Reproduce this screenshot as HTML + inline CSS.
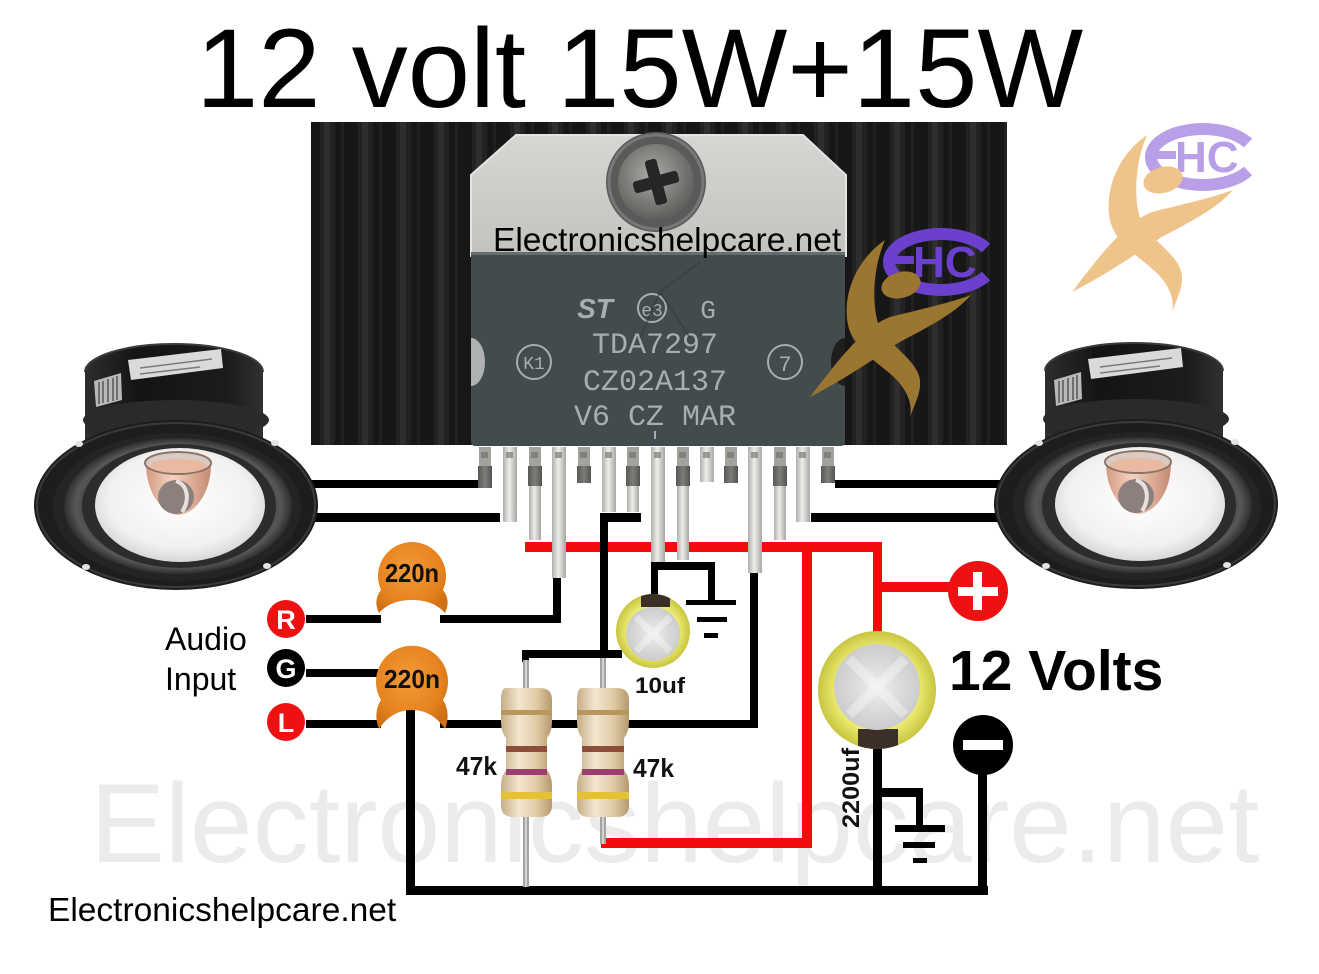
<!DOCTYPE html>
<html><head><meta charset="utf-8"><style>html,body{margin:0;padding:0;background:#fff;width:1319px;height:974px;overflow:hidden}svg{display:block}</style></head>
<body>
<svg width="1319" height="974" viewBox="0 0 1319 974" xmlns="http://www.w3.org/2000/svg" font-family="'Liberation Sans', Arial, sans-serif">
<defs>
 <pattern id="fins" x="311" y="0" width="38" height="20" patternUnits="userSpaceOnUse">
  <rect width="38" height="20" fill="#171717"/>
  <rect x="9" width="15" height="20" fill="#222"/>
  <rect x="13" width="6" height="20" fill="#2e2e2e"/>
  <rect x="30" width="3" height="20" fill="#202020"/>
 </pattern>
 <linearGradient id="tab" x1="0" y1="0" x2="0" y2="1"><stop offset="0" stop-color="#d6d6d2"/><stop offset="1" stop-color="#c2c2be"/></linearGradient>
 <radialGradient id="screw" cx="0.45" cy="0.4" r="0.6"><stop offset="0" stop-color="#ababa8"/><stop offset="1" stop-color="#5e5e5c"/></radialGradient>
 <linearGradient id="pinL" x1="0" x2="1"><stop offset="0" stop-color="#aeaeaa"/><stop offset=".45" stop-color="#ededea"/><stop offset="1" stop-color="#a6a6a2"/></linearGradient>
 <linearGradient id="pinD" x1="0" x2="1"><stop offset="0" stop-color="#585856"/><stop offset=".5" stop-color="#7d7d79"/><stop offset="1" stop-color="#535351"/></linearGradient>
 <radialGradient id="cer" cx=".45" cy=".4" r=".65"><stop offset="0" stop-color="#f29a38"/><stop offset=".7" stop-color="#e6831f"/><stop offset="1" stop-color="#cf7014"/></radialGradient>
 <linearGradient id="res" x1="0" x2="1"><stop offset="0" stop-color="#c6ad86"/><stop offset=".35" stop-color="#f2e6cf"/><stop offset=".7" stop-color="#e1cba6"/><stop offset="1" stop-color="#b5986e"/></linearGradient>
 <radialGradient id="cone" cx=".5" cy=".45" r=".6"><stop offset="0" stop-color="#ffffff"/><stop offset=".7" stop-color="#f3f1ef"/><stop offset="1" stop-color="#cfcdcb"/></radialGradient>
 <linearGradient id="mag" x1="0" x2="1"><stop offset="0" stop-color="#2e2e2e"/><stop offset=".3" stop-color="#141414"/><stop offset=".8" stop-color="#1c1c1c"/><stop offset="1" stop-color="#303030"/></linearGradient>
 <linearGradient id="cop" x1="0" x2="1"><stop offset="0" stop-color="#d39a82"/><stop offset=".4" stop-color="#f4d2bf"/><stop offset="1" stop-color="#c68a72"/></linearGradient>
 <radialGradient id="foil" cx=".5" cy=".5" r=".5"><stop offset="0" stop-color="#eeeeee"/><stop offset="1" stop-color="#cccccc"/></radialGradient>
 <radialGradient id="yel" cx=".5" cy=".5" r=".5"><stop offset=".7" stop-color="#eceb72"/><stop offset="1" stop-color="#c8c540"/></radialGradient>
 <radialGradient id="rub" cx=".5" cy=".5" r=".5"><stop offset=".75" stop-color="#3a3a3a"/><stop offset=".9" stop-color="#575757"/><stop offset="1" stop-color="#2e2e2e"/></radialGradient>
 <clipPath id="c10"><circle cx="653" cy="631" r="37"/></clipPath>
 <clipPath id="c22"><circle cx="877" cy="690" r="59"/></clipPath>
</defs>

<rect width="1319" height="974" fill="#fff"/>

<!-- watermark -->
<text x="90" y="862" font-size="112.5" fill="#ebebeb">Electronicshelpcare.net</text>

<!-- title -->
<text x="196" y="107" font-size="112" fill="#000">12 volt 15W+15W</text>

<!-- heatsink -->
<rect x="311" y="122" width="696" height="323" fill="url(#fins)"/>

<!-- chip tab -->
<polygon points="516,135 803,135 846,175 846,256 471,256 471,175" fill="url(#tab)" stroke="#e4e4e0" stroke-width="2"/>
<circle cx="656" cy="182" r="50" fill="#5a5a58"/>
<circle cx="656" cy="182" r="47" fill="none" stroke="#777" stroke-width="3"/>
<circle cx="656" cy="182" r="38" fill="url(#screw)"/>
<g transform="rotate(-15 656 182)" fill="#262626">
 <rect x="633" y="176" width="46" height="12" rx="3"/>
 <rect x="650" y="159" width="12" height="46" rx="3"/>
</g>

<!-- chip body -->
<rect x="471" y="252" width="374" height="194" rx="4" fill="#434c4c"/>
<rect x="471" y="252" width="374" height="3" fill="#656e6e"/>
<path d="M471,338 A14,24 0 0 1 471,386 Z" fill="#aeb2b2"/>
<path d="M845,338 A14,24 0 0 0 845,386 Z" fill="#1e1e1e"/>
<g fill="#a6aeae" font-family="'Liberation Mono', monospace" font-size="30" text-anchor="middle">
 <text x="655" y="353">TDA7297</text>
 <text x="655" y="390">CZ02A137</text>
 <text x="655" y="425">V6 CZ MAR</text>
 <text x="708" y="318" font-size="26">G</text>
 <text x="595" y="318" font-size="28" font-style="italic" font-weight="bold" font-family="'Liberation Sans', sans-serif">ST</text>
 <text x="652" y="316" font-size="18">e3</text>
 <text x="534" y="369" font-size="18">K1</text>
 <text x="785" y="371" font-size="22">7</text>
</g>
<g fill="none" stroke="#a6aeae" stroke-width="2">
 <circle cx="652" cy="308" r="14"/>
 <circle cx="534" cy="362" r="17"/>
 <circle cx="785" cy="362" r="17"/>
</g>
<path d="M640,338 L660,292 L690,338 M660,292 L700,262" stroke="#333a3a" stroke-width="2" fill="none" opacity=".6"/>
<rect x="654" y="431" width="2" height="8" fill="#aab"/>
<text x="493" y="251" font-size="33.5" fill="#000">Electronicshelpcare.net</text>

<!-- chip overlay logo -->
<g transform="translate(-262,105)">
 <path d="M1248,143 A52,28 0 1 0 1248,171" fill="none" stroke="#6a40cc" stroke-width="12"/>
 <rect x="1150" y="151" width="26" height="8" fill="#6a40cc"/>
 <text x="1175" y="172" font-size="44" font-weight="bold" fill="#6a40cc">HC</text>
 <g fill="#9a7630">
  <path d="M1147,135 C1118,155 1104,190 1110,220 C1116,248 1150,262 1163,280 C1172,292 1174,302 1172,312 C1178,296 1186,282 1180,268 C1172,250 1148,238 1140,218 C1133,195 1136,160 1147,135 Z"/>
  <path d="M1233,190 C1205,200 1175,206 1152,212 C1125,222 1098,258 1072,292 C1105,275 1135,255 1160,238 C1190,222 1215,210 1233,190 Z"/>
  <ellipse cx="1163" cy="180" rx="20" ry="13" transform="rotate(-15 1163 180)"/>
 </g>
</g>

<!-- top-right logo -->
<g>
 <path d="M1248,143 A52,28 0 1 0 1248,171" fill="none" stroke="#b99fe8" stroke-width="12"/>
 <rect x="1150" y="151" width="26" height="8" fill="#b99fe8"/>
 <text x="1175" y="172" font-size="44" font-weight="bold" fill="#b99fe8">HC</text>
 <g fill="#efc48a">
  <path d="M1147,135 C1118,155 1104,190 1110,220 C1116,248 1150,262 1163,280 C1172,292 1174,302 1172,312 C1178,296 1186,282 1180,268 C1172,250 1148,238 1140,218 C1133,195 1136,160 1147,135 Z"/>
  <path d="M1233,190 C1205,200 1175,206 1152,212 C1125,222 1098,258 1072,292 C1105,275 1135,255 1160,238 C1190,222 1215,210 1233,190 Z"/>
  <ellipse cx="1163" cy="180" rx="20" ry="13" transform="rotate(-15 1163 180)"/>
 </g>
</g>

<!-- red wires -->
<g fill="#f20c0c">
 <rect x="525" y="542" width="357" height="10"/>
 <rect x="873" y="542" width="9" height="92"/>
 <rect x="873" y="582" width="77" height="10"/>
 <rect x="802" y="542" width="10" height="306"/>
 <rect x="601" y="838" width="211" height="10"/>
</g>

<!-- black wires -->
<g fill="#000">
 <rect x="300" y="480" width="178" height="8"/>
 <rect x="300" y="513" width="200" height="9"/>
 <rect x="835" y="480" width="180" height="8"/>
 <rect x="811" y="513" width="204" height="9"/>
 <rect x="600" y="513" width="41" height="9"/>
 <rect x="600" y="513" width="8" height="145"/>
 <rect x="522" y="650" width="100" height="8"/>
 <rect x="522" y="650" width="7" height="12"/>
 <rect x="306" y="615" width="75" height="8"/>
 <rect x="440" y="615" width="121" height="8"/>
 <rect x="553" y="576" width="8" height="47"/>
 <rect x="306" y="669" width="75" height="8"/>
 <rect x="306" y="720" width="75" height="8"/>
 <rect x="440" y="720" width="318" height="8"/>
 <rect x="750" y="571" width="8" height="157"/>
 <rect x="406" y="700" width="9" height="195"/>
 <rect x="406" y="886" width="582" height="9"/>
 <rect x="978" y="760" width="9" height="135"/>
 <rect x="873" y="745" width="9" height="150"/>
 <rect x="873" y="788" width="50" height="9"/>
 <rect x="916" y="788" width="7" height="40"/>
 <rect x="895" y="825" width="50" height="7"/>
 <rect x="903" y="842" width="32" height="6"/>
 <rect x="913" y="858" width="14" height="5"/>
 <rect x="651" y="562" width="64" height="8"/>
 <rect x="651" y="562" width="7" height="37"/>
 <rect x="708" y="562" width="7" height="40"/>
 <rect x="686" y="600" width="50" height="5"/>
 <rect x="697" y="617" width="30" height="5"/>
 <rect x="704" y="633" width="14" height="5"/>
</g>

<!-- pins -->
<g>
 <rect x="479" y="447" width="12" height="20" fill="#a3a39e"/><rect x="478" y="466" width="14" height="22" fill="url(#pinD)"/>
 <rect x="503" y="447" width="14" height="75" fill="url(#pinL)"/>
 <rect x="529" y="447" width="12" height="20" fill="#a3a39e"/><rect x="528" y="466" width="14" height="20" fill="url(#pinD)"/><rect x="529" y="486" width="12" height="54" fill="url(#pinL)"/>
 <rect x="552" y="447" width="14" height="131" fill="url(#pinL)"/>
 <rect x="578" y="447" width="12" height="20" fill="#a3a39e"/><rect x="577" y="466" width="14" height="17" fill="url(#pinD)"/>
 <rect x="602" y="447" width="14" height="65" fill="url(#pinL)"/>
 <rect x="627" y="447" width="12" height="20" fill="#a3a39e"/><rect x="626" y="466" width="14" height="20" fill="url(#pinD)"/><rect x="627" y="486" width="12" height="26" fill="url(#pinL)"/>
 <rect x="651" y="447" width="14" height="115" fill="url(#pinL)"/>
 <rect x="677" y="447" width="12" height="20" fill="#a3a39e"/><rect x="676" y="466" width="14" height="20" fill="url(#pinD)"/><rect x="677" y="486" width="12" height="74" fill="url(#pinL)"/>
 <rect x="700" y="447" width="14" height="35" fill="url(#pinL)"/>
 <rect x="725" y="447" width="12" height="20" fill="#a3a39e"/><rect x="724" y="466" width="14" height="17" fill="url(#pinD)"/>
 <rect x="748" y="447" width="14" height="126" fill="url(#pinL)"/>
 <rect x="774" y="447" width="12" height="20" fill="#a3a39e"/><rect x="773" y="466" width="14" height="20" fill="url(#pinD)"/><rect x="774" y="486" width="12" height="54" fill="url(#pinL)"/>
 <rect x="796" y="447" width="14" height="75" fill="url(#pinL)"/>
 <rect x="822" y="447" width="12" height="20" fill="#a3a39e"/><rect x="821" y="466" width="14" height="17" fill="url(#pinD)"/>
 <g fill="#6a6a66" opacity=".6">
  <rect x="481" y="452" width="7" height="6"/><rect x="506" y="452" width="7" height="6"/><rect x="531" y="452" width="7" height="6"/><rect x="555" y="452" width="7" height="6"/><rect x="580" y="452" width="7" height="6"/><rect x="605" y="452" width="7" height="6"/><rect x="629" y="452" width="7" height="6"/><rect x="654" y="452" width="7" height="6"/><rect x="679" y="452" width="7" height="6"/><rect x="703" y="452" width="7" height="6"/><rect x="727" y="452" width="7" height="6"/><rect x="751" y="452" width="7" height="6"/><rect x="776" y="452" width="7" height="6"/><rect x="799" y="452" width="7" height="6"/><rect x="824" y="452" width="7" height="6"/>
 </g>
</g>

<!-- ceramic caps -->
<path d="M379,613 C374,603 377,595 381,590 A34,34 0 1 1 443,590 C447,595 450,603 445,613 C437,604 426,600 412,600 C398,600 387,604 379,613 Z" fill="url(#cer)"/>
<path d="M379,729 C374,717 377,706 381,700 A36,36 0 1 1 443,700 C447,706 450,717 445,729 C437,717 426,710 412,710 C398,710 387,717 379,729 Z" fill="url(#cer)"/>
<g font-weight="bold" font-size="26" text-anchor="middle" fill="#111">
 <text x="412" y="582" textLength="54" lengthAdjust="spacingAndGlyphs">220n</text>
 <text x="412" y="688" textLength="56" lengthAdjust="spacingAndGlyphs">220n</text>
</g>

<!-- resistor leads -->
<g fill="#a4a4a2">
 <rect x="523" y="660" width="6" height="32"/>
 <rect x="523" y="814" width="6" height="73"/>
 <rect x="600" y="658" width="6" height="34"/>
 <rect x="600" y="814" width="6" height="30"/>
</g>
<g fill="#d2d2d0">
 <rect x="525" y="660" width="2" height="32"/><rect x="525" y="814" width="2" height="73"/>
 <rect x="602" y="658" width="2" height="34"/><rect x="602" y="814" width="2" height="30"/>
</g>
<!-- resistors -->
<g>
 <path d="M506,688 Q501,688 501,700 L501,722 Q501,732 506,738 L506,770 Q501,776 501,786 L501,805 Q501,817 513,817 L540,817 Q552,817 552,805 L552,786 Q552,776 547,770 L547,738 Q552,732 552,722 L552,700 Q552,688 540,688 Z" fill="url(#res)"/>
 <rect x="501" y="710" width="51" height="5" fill="#b8975c"/>
 <rect x="506" y="746" width="41" height="6" fill="#8e4c3a"/>
 <rect x="506" y="769" width="41" height="6" fill="#9c3f70"/>
 <rect x="501" y="792" width="51" height="7" fill="#e6c133"/>
 <path d="M582,688 Q577,688 577,700 L577,722 Q577,732 582,738 L582,770 Q577,776 577,786 L577,805 Q577,817 589,817 L617,817 Q629,817 629,805 L629,786 Q629,776 624,770 L624,738 Q629,732 629,722 L629,700 Q629,688 617,688 Z" fill="url(#res)"/>
 <rect x="577" y="710" width="52" height="5" fill="#b8975c"/>
 <rect x="582" y="746" width="42" height="6" fill="#8e4c3a"/>
 <rect x="582" y="769" width="42" height="6" fill="#9c3f70"/>
 <rect x="577" y="792" width="52" height="7" fill="#e6c133"/>
</g>

<!-- 10uf cap -->
<circle cx="653" cy="631" r="37" fill="url(#yel)"/>
<rect x="641" y="592" width="29" height="15" fill="#3b2f28" clip-path="url(#c10)"/>
<circle cx="653" cy="634" r="27" fill="url(#foil)"/>
<path d="M636,617 L670,651 M670,617 L636,651" stroke="#ffffff" stroke-width="7" opacity=".35"/>

<!-- 2200uf cap -->
<circle cx="877" cy="690" r="59" fill="url(#yel)"/>
<rect x="858" y="729" width="40" height="25" fill="#3b2f28" clip-path="url(#c22)"/>
<circle cx="877" cy="687" r="43" fill="url(#foil)"/>
<path d="M849,659 L905,715 M905,659 L849,715" stroke="#ffffff" stroke-width="10" opacity=".35"/>

<!-- terminals -->
<circle cx="978" cy="591" r="30" fill="#ee1111"/>
<rect x="958" y="587" width="40" height="9" fill="#fff"/>
<rect x="973" y="572" width="9" height="38" fill="#fff"/>
<circle cx="983" cy="745" r="30" fill="#000"/>
<rect x="963" y="740" width="40" height="10" fill="#fff"/>

<!-- input circles -->
<circle cx="286" cy="619" r="19" fill="#ee1111"/>
<circle cx="286" cy="668" r="19" fill="#000"/>
<circle cx="286" cy="722" r="19" fill="#ee1111"/>
<g fill="#fff" font-size="27" font-weight="bold" text-anchor="middle">
 <text x="286" y="629">R</text>
 <text x="286" y="678">G</text>
 <text x="286" y="732">L</text>
</g>

<!-- speakers -->
<g>
 <path d="M85,372 A89,28 0 0 1 263,372 L263,440 L85,440 Z" fill="url(#mag)"/>
 <path d="M85,372 A89,28 0 0 1 263,372" fill="none" stroke="#3c3c3c" stroke-width="2"/>
 <polygon points="128,360 221,349 223,368 131,380" fill="#dadada"/>
 <path d="M140,368 L212,359 M140,374 L200,367" stroke="#7a7a7a" stroke-width="1.5"/>
 <polygon points="94,381 121,373 122,400 96,407" fill="#b9b9b9"/>
 <path d="M99,382 L99,404 M103,381 L103,403 M108,379 L108,402 M113,378 L113,401 M117,376 L117,400" stroke="#555" stroke-width="1.5"/>
 <ellipse cx="176" cy="420" rx="93" ry="20" fill="#2a2a2a"/>
 <ellipse cx="176" cy="505" rx="142" ry="85" fill="#1d1d1d"/>
 <ellipse cx="176" cy="505" rx="139" ry="82" fill="none" stroke="#3a3a3a" stroke-width="2"/>
 <ellipse cx="177" cy="507" rx="124" ry="74" fill="#242424"/>
 <ellipse cx="178" cy="506" rx="114" ry="68" fill="url(#rub)"/>
 <ellipse cx="179" cy="506" rx="97" ry="62" fill="#2c2c2c"/>
 <ellipse cx="180" cy="505" rx="85" ry="57" fill="url(#cone)"/>
 <g fill="#e4e4e4"><ellipse cx="79" cy="444" rx="4" ry="3"/><ellipse cx="275" cy="443" rx="4" ry="3"/><ellipse cx="86" cy="567" rx="4" ry="3"/><ellipse cx="267" cy="566" rx="4" ry="3"/></g>
 <path d="M146,464 C146,495 165,515 178,515 C193,515 211,495 211,464 Z" fill="url(#cop)"/>
 <ellipse cx="178" cy="463" rx="33" ry="11" fill="#d8cbc3" stroke="#8a7568" stroke-width="2"/>
 <ellipse cx="178" cy="466" rx="28" ry="7" fill="#e9b9a2"/>
 <ellipse cx="176" cy="497" rx="18" ry="17" fill="#8c807c"/>
 <path d="M176,481 C188,485 190,500 182,512" stroke="#e8e0de" stroke-width="4" fill="none"/>
</g>
<g transform="translate(960,-1)">
 <path d="M85,372 A89,28 0 0 1 263,372 L263,440 L85,440 Z" fill="url(#mag)"/>
 <path d="M85,372 A89,28 0 0 1 263,372" fill="none" stroke="#3c3c3c" stroke-width="2"/>
 <polygon points="128,360 221,349 223,368 131,380" fill="#dadada"/>
 <path d="M140,368 L212,359 M140,374 L200,367" stroke="#7a7a7a" stroke-width="1.5"/>
 <polygon points="94,381 121,373 122,400 96,407" fill="#b9b9b9"/>
 <path d="M99,382 L99,404 M103,381 L103,403 M108,379 L108,402 M113,378 L113,401 M117,376 L117,400" stroke="#555" stroke-width="1.5"/>
 <ellipse cx="176" cy="420" rx="93" ry="20" fill="#2a2a2a"/>
 <ellipse cx="176" cy="505" rx="142" ry="85" fill="#1d1d1d"/>
 <ellipse cx="176" cy="505" rx="139" ry="82" fill="none" stroke="#3a3a3a" stroke-width="2"/>
 <ellipse cx="177" cy="507" rx="124" ry="74" fill="#242424"/>
 <ellipse cx="178" cy="506" rx="114" ry="68" fill="url(#rub)"/>
 <ellipse cx="179" cy="506" rx="97" ry="62" fill="#2c2c2c"/>
 <ellipse cx="180" cy="505" rx="85" ry="57" fill="url(#cone)"/>
 <g fill="#e4e4e4"><ellipse cx="79" cy="444" rx="4" ry="3"/><ellipse cx="275" cy="443" rx="4" ry="3"/><ellipse cx="86" cy="567" rx="4" ry="3"/><ellipse cx="267" cy="566" rx="4" ry="3"/></g>
 <path d="M146,464 C146,495 165,515 178,515 C193,515 211,495 211,464 Z" fill="url(#cop)"/>
 <ellipse cx="178" cy="463" rx="33" ry="11" fill="#d8cbc3" stroke="#8a7568" stroke-width="2"/>
 <ellipse cx="178" cy="466" rx="28" ry="7" fill="#e9b9a2"/>
 <ellipse cx="176" cy="497" rx="18" ry="17" fill="#8c807c"/>
 <path d="M176,481 C188,485 190,500 182,512" stroke="#e8e0de" stroke-width="4" fill="none"/>
</g>

<!-- labels -->
<text x="165" y="650" font-size="32" fill="#000">Audio</text>
<text x="165" y="690" font-size="32" fill="#000">Input</text>
<g font-weight="bold" fill="#111">
 <text x="456" y="775" font-size="26" textLength="41" lengthAdjust="spacingAndGlyphs">47k</text>
 <text x="633" y="777" font-size="26" textLength="41" lengthAdjust="spacingAndGlyphs">47k</text>
 <text x="635" y="693" font-size="22" textLength="50" lengthAdjust="spacingAndGlyphs">10uf</text>
 <text transform="translate(859,788) rotate(-90)" font-size="24" text-anchor="middle" textLength="80" lengthAdjust="spacingAndGlyphs">2200uf</text>
 <text x="949" y="690" font-size="57" fill="#000">12 Volts</text>
</g>
<text x="48" y="921" font-size="33.5" fill="#000">Electronicshelpcare.net</text>
</svg>
</body></html>
